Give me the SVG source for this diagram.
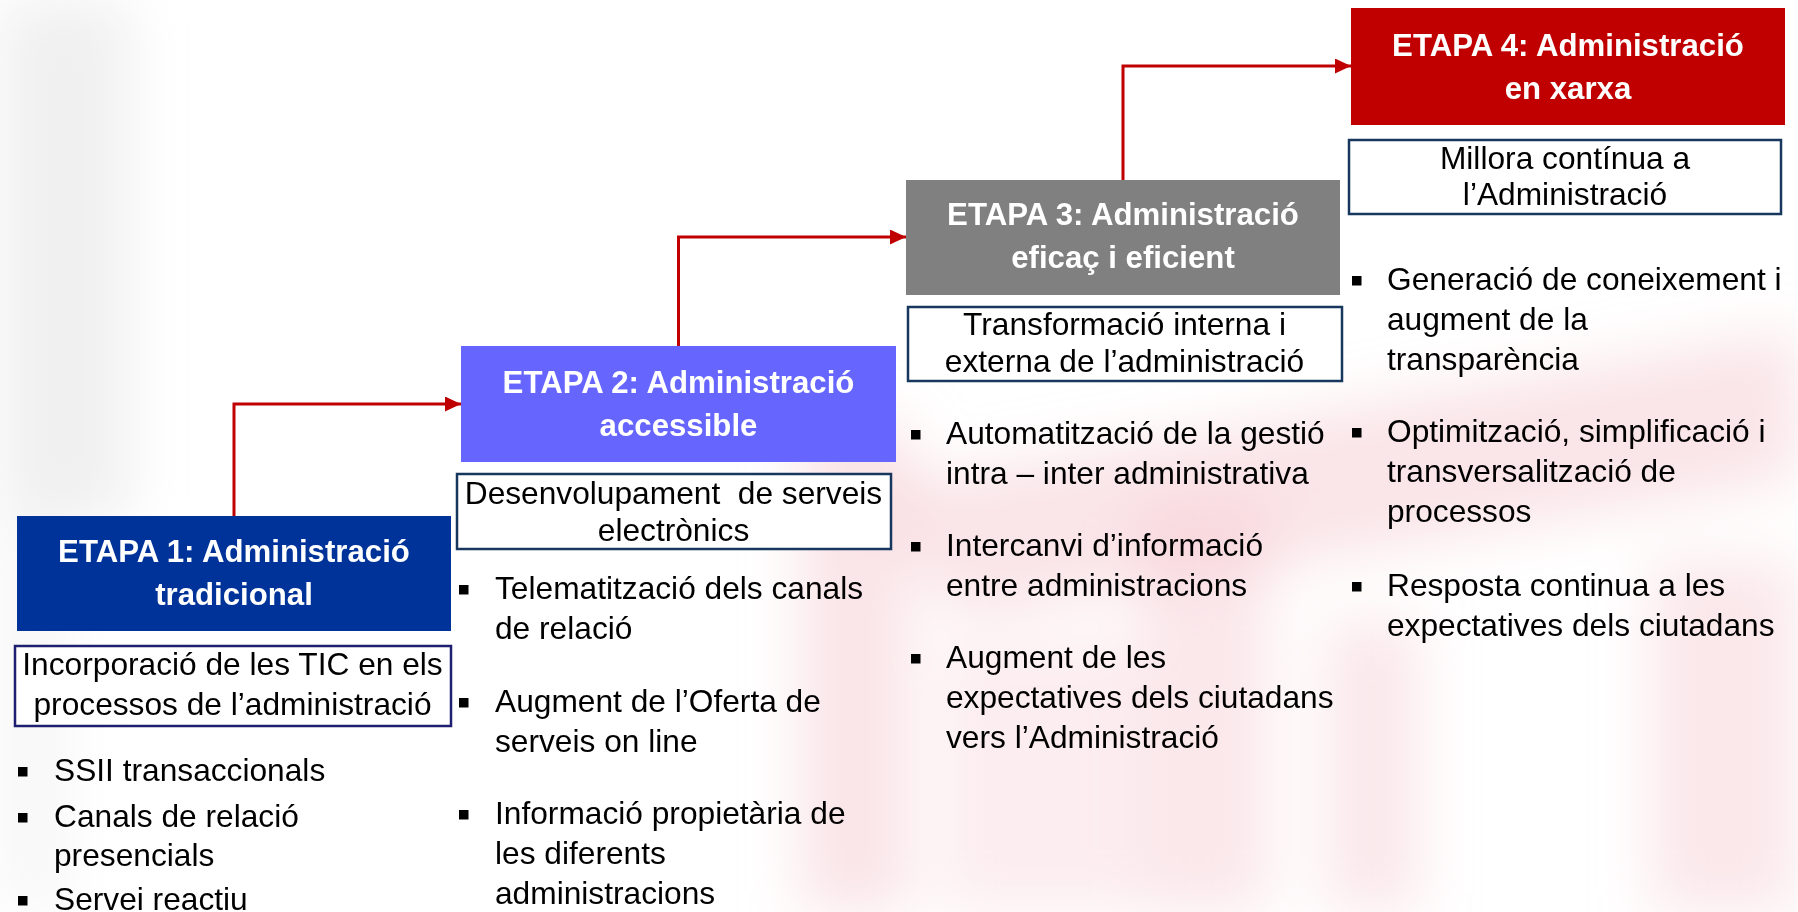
<svg xmlns="http://www.w3.org/2000/svg" width="1798" height="912" viewBox="0 0 1798 912">
  <defs>
    <filter id="blur" x="-50%" y="-50%" width="200%" height="200%">
      <feGaussianBlur stdDeviation="28"/>
    </filter>
    <marker id="arrow" viewBox="0 0 16 15" refX="16" refY="7.5" markerWidth="16" markerHeight="15" markerUnits="userSpaceOnUse" orient="auto">
      <path d="M0,0 L16,7.5 L0,15 Z" fill="#C00000"/>
    </marker>
  </defs>
  <style>
    .head { font-family: "Liberation Sans", Arial, sans-serif; font-weight: bold; font-size: 31.2px; fill: #ffffff; text-anchor: middle; }
    .sub { font-family: "Liberation Sans", Arial, sans-serif; font-size: 31.7px; fill: #000000; text-anchor: middle; white-space: pre; }
    .body { font-family: "Liberation Sans", Arial, sans-serif; font-size: 31.7px; fill: #000000; }
    .subbox { fill: #ffffff; stroke: #17375e; stroke-width: 2.5; }
    .bullet { fill: #000000; }
    .conn { fill: none; stroke: #C00000; stroke-width: 3; marker-end: url(#arrow); }
  </style>

  <rect width="1798" height="912" fill="#ffffff"/>

  <g id="background" filter="url(#blur)">
    <rect x="0" y="0" width="130" height="520" fill="#e6e6e6" opacity="0.6"/>
    <rect x="0" y="520" width="70" height="392" fill="#ebebeb" opacity="0.4"/>
    <path d="M860,490 L1798,330 L1798,480 L960,620 Z" fill="#f5c5cc" opacity="0.45"/>
    <rect x="800" y="420" width="110" height="492" fill="#f5c5cc" opacity="0.45"/>
    <rect x="1140" y="500" width="130" height="412" fill="#f5c5cc" opacity="0.4"/>
    <rect x="1325" y="620" width="95" height="292" fill="#f5c5cc" opacity="0.4"/>
    <rect x="1650" y="560" width="148" height="352" fill="#f5c5cc" opacity="0.4"/>
    <rect x="940" y="640" width="200" height="272" fill="#f5c5cc" opacity="0.3"/>
  </g>

  <g id="connectors">
    <path class="conn" d="M234,516 V404 H461"/>
    <path class="conn" d="M678.5,346 V237 H906"/>
    <path class="conn" d="M1123,180 V66 H1351"/>
  </g>

  <g id="etapa1">
    <rect x="17" y="516" width="434" height="115" fill="#003399"/>
    <text class="head" x="234" y="562">ETAPA 1: Administració</text>
    <text class="head" x="234" y="605">tradicional</text>
  </g>
  <g id="sub1">
    <rect class="subbox" x="15" y="646" width="436" height="80" style="stroke:#1f1f72"/>
    <text class="sub" x="232.5" y="675">Incorporació de les TIC en els</text>
    <text class="sub" x="232.5" y="715">processos de l’administració</text>
  </g>
  <g id="list1">
    <rect class="bullet" x="18" y="767" width="9.5" height="9.5"/>
    <text class="body" x="54" y="781">SSII transaccionals</text>
    <rect class="bullet" x="18" y="813" width="9.5" height="9.5"/>
    <text class="body" x="54" y="827">Canals de relació</text>
    <text class="body" x="54" y="866">presencials</text>
    <rect class="bullet" x="18" y="896" width="9.5" height="9.5"/>
    <text class="body" x="54" y="910">Servei reactiu</text>
  </g>

  <g id="etapa2">
    <rect x="461" y="346" width="435" height="116" fill="#6666FF"/>
    <text class="head" x="678.5" y="393">ETAPA 2: Administració</text>
    <text class="head" x="678.5" y="436">accessible</text>
  </g>
  <g id="sub2">
    <rect class="subbox" x="457" y="474" width="434" height="75"/>
    <text class="sub" x="673.5" y="504">Desenvolupament  de serveis</text>
    <text class="sub" x="673.5" y="541">electrònics</text>
  </g>
  <g id="list2">
    <rect class="bullet" x="459" y="585" width="9.5" height="9.5"/>
    <text class="body" x="495" y="599">Telematització dels canals</text>
    <text class="body" x="495" y="639">de relació</text>
    <rect class="bullet" x="459" y="698" width="9.5" height="9.5"/>
    <text class="body" x="495" y="712">Augment de l’Oferta de</text>
    <text class="body" x="495" y="752">serveis on line</text>
    <rect class="bullet" x="459" y="810" width="9.5" height="9.5"/>
    <text class="body" x="495" y="824">Informació propietària de</text>
    <text class="body" x="495" y="864">les diferents</text>
    <text class="body" x="495" y="904">administracions</text>
  </g>

  <g id="etapa3">
    <rect x="906" y="180" width="434" height="115" fill="#808080"/>
    <text class="head" x="1123" y="225">ETAPA 3: Administració</text>
    <text class="head" x="1123" y="268">eficaç i eficient</text>
  </g>
  <g id="sub3">
    <rect class="subbox" x="908" y="307" width="434" height="74"/>
    <text class="sub" x="1124.5" y="335">Transformació interna i</text>
    <text class="sub" x="1124.5" y="372">externa de l’administració</text>
  </g>
  <g id="list3">
    <rect class="bullet" x="911" y="430" width="9.5" height="9.5"/>
    <text class="body" x="946" y="444">Automatització de la gestió</text>
    <text class="body" x="946" y="484">intra – inter administrativa</text>
    <rect class="bullet" x="911" y="542" width="9.5" height="9.5"/>
    <text class="body" x="946" y="556">Intercanvi d’informació</text>
    <text class="body" x="946" y="596">entre administracions</text>
    <rect class="bullet" x="911" y="654" width="9.5" height="9.5"/>
    <text class="body" x="946" y="668">Augment de les</text>
    <text class="body" x="946" y="708">expectatives dels ciutadans</text>
    <text class="body" x="946" y="748">vers l’Administració</text>
  </g>

  <g id="etapa4">
    <rect x="1351" y="8" width="434" height="117" fill="#C00000"/>
    <text class="head" x="1568" y="56">ETAPA 4: Administració</text>
    <text class="head" x="1568" y="99">en xarxa</text>
  </g>
  <g id="sub4">
    <rect class="subbox" x="1349" y="140" width="432" height="74"/>
    <text class="sub" x="1565" y="169">Millora contínua a</text>
    <text class="sub" x="1565" y="205">l’Administració</text>
  </g>
  <g id="list4">
    <rect class="bullet" x="1352" y="276" width="9.5" height="9.5"/>
    <text class="body" x="1387" y="290">Generació de coneixement i</text>
    <text class="body" x="1387" y="330">augment de la</text>
    <text class="body" x="1387" y="370">transparència</text>
    <rect class="bullet" x="1352" y="428" width="9.5" height="9.5"/>
    <text class="body" x="1387" y="442">Optimització, simplificació i</text>
    <text class="body" x="1387" y="482">transversalització de</text>
    <text class="body" x="1387" y="522">processos</text>
    <rect class="bullet" x="1352" y="582" width="9.5" height="9.5"/>
    <text class="body" x="1387" y="596">Resposta continua a les</text>
    <text class="body" x="1387" y="636">expectatives dels ciutadans</text>
  </g>
</svg>
